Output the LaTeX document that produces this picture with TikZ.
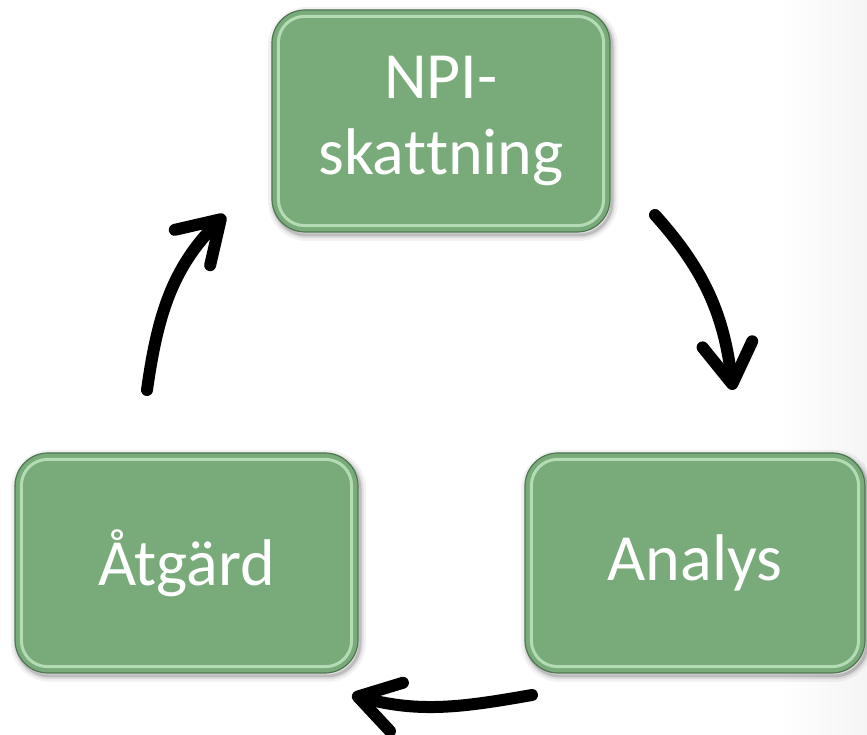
\documentclass[tikz,border=0pt]{standalone}
\usepackage{fontspec}
\setmainfont{Carlito}[Ligatures={NoCommon,NoContextual}]
\usetikzlibrary{arrows.meta}
\definecolor{boxfill}{RGB}{120,170,122}
\definecolor{boxedge}{RGB}{80,118,82}
\definecolor{boxhl}{RGB}{205,242,205}
\tikzset{
  cyclebox/.style={minimum width=340pt, minimum height=220pt, rounded corners=33pt,
    fill=boxfill, draw=boxedge, line width=1.2pt, text=white,
    font=\fontsize{66}{76}\selectfont, align=center, inner sep=0pt,
    preaction={draw=black, draw opacity=0.05, line width=12pt, transform canvas={shift={(2pt,-3pt)}}},
    preaction={draw=black, draw opacity=0.08, line width=7pt, transform canvas={shift={(2pt,-3pt)}}},
    preaction={draw=black, draw opacity=0.15, line width=3pt, transform canvas={shift={(2pt,-3pt)}}}},
  bevel/.style={draw=boxhl, draw opacity=0.7, line width=3pt, rounded corners=26pt},
  cyclearrow/.style={line width=12pt, line cap=round,
    -{Straight Barb[length=40pt,width=50pt,line cap=round,line join=round]}},
}
\begin{document}
\begin{tikzpicture}[x=1pt,y=1pt]
\useasboundingbox (0,0) rectangle (867,735);
\fill[white] (0,0) rectangle (867,735);
\shade[left color=white, right color=black!4] (780,0) rectangle (867,735);

\node[cyclebox, minimum width=338pt, minimum height=222pt] (npi) at (441,614) {NPI-\\skat\kern0pt tning};
\node[cyclebox, minimum width=343pt] (atg) at (186.5,172) {Åtgärd};
\node[cyclebox] (ana) at (695,172) {Analys};

\foreach \n in {npi,atg,ana}{
  \draw[bevel] ([shift={(7pt,7pt)}]\n.south west) rectangle ([shift={(-7pt,-7pt)}]\n.north east);
}

\coordinate (a1s) at (655,520);
\coordinate (a1e) at (733,345);
\coordinate (a2s) at (532,40);
\coordinate (a2e) at (352,40);
\coordinate (a3s) at (147,345);
\coordinate (a3e) at (225,520);

\draw[cyclearrow] (a1s) to[out=-48, in=97] (a1e);
\draw[cyclearrow] (a2s) to[out=190, in=-15] (a2e);
\draw[cyclearrow] (a3s) to[out=82, in=225] (a3e);
\end{tikzpicture}
\end{document}
